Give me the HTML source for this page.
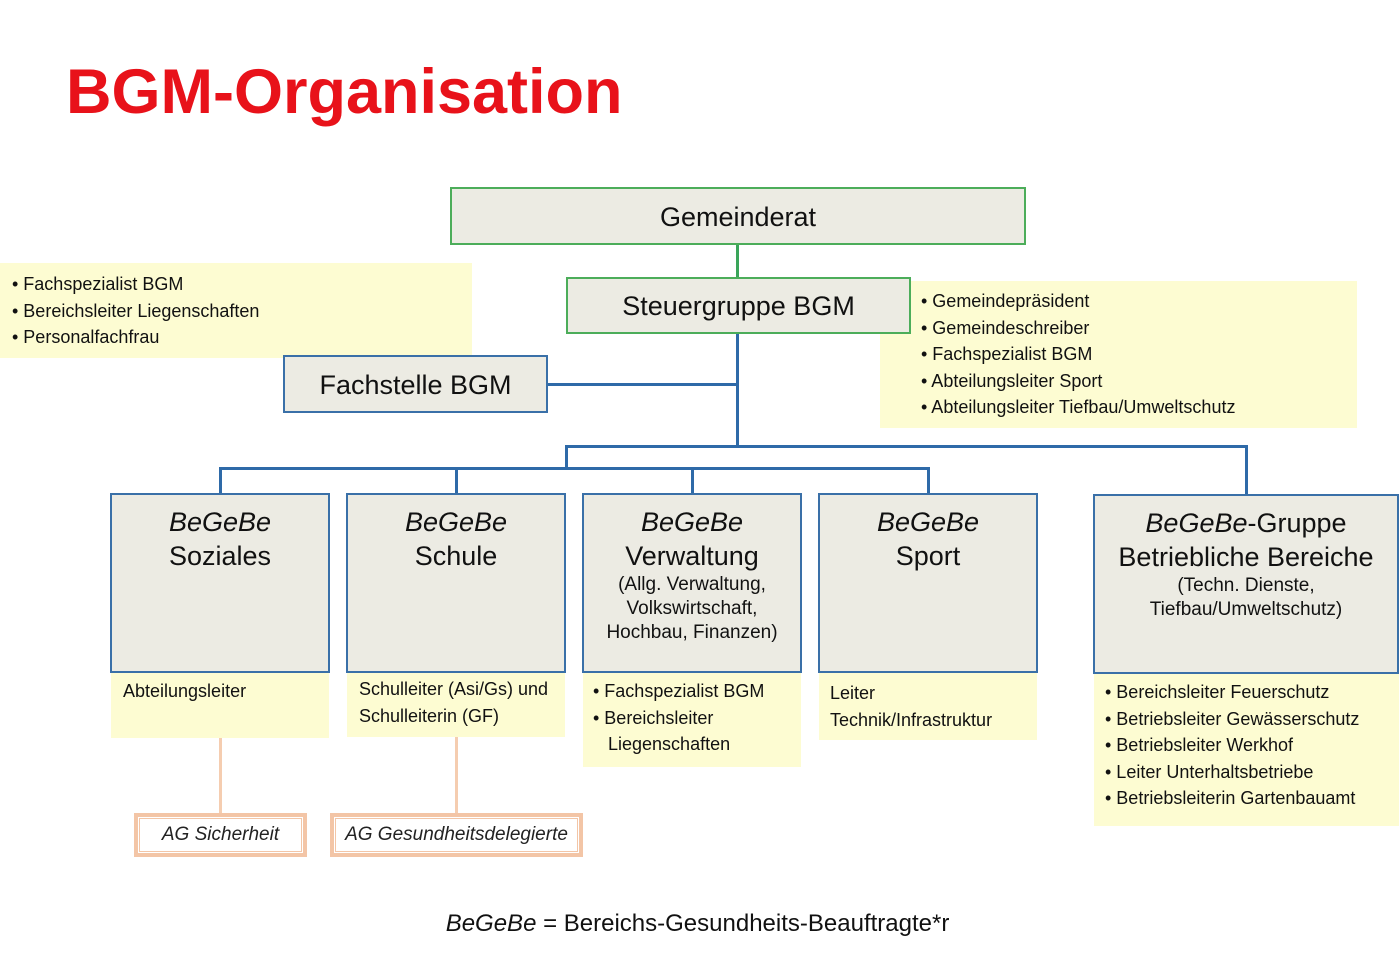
<!DOCTYPE html>
<html><head><meta charset="utf-8"><style>
body{margin:0;width:1400px;height:953px;background:#fff;position:relative;overflow:hidden;font-family:"Liberation Sans",sans-serif;}
.a{position:absolute;box-sizing:border-box;}
.box{background:#ecebe3;text-align:center;color:#111;}
.g{border:2px solid #4cad5a;}
.b{border:2px solid #3a70a8;}
.note{background:#fdfcd2;color:#111;font-size:18px;line-height:26.5px;}
.l{position:absolute;background:#2e6aa8;}
.o{position:absolute;background:#f5cdb0;}
.h{font-size:27px;line-height:34px;}
.s{font-size:19px;line-height:24px;}
i{font-style:italic;}
.ag{border:4px solid #f3c5a6;background:#fff;font-style:italic;font-size:19px;text-align:center;line-height:32px;color:#222;}
.ag span{display:block;margin:1px;border:1px solid #f3c5a6;height:32px;}
</style></head><body>
<div class="a" style="left:66px;top:56px;font-size:63px;font-weight:bold;color:#e8121a;">BGM-Organisation</div>

<div class="a note" style="left:0;top:263px;width:472px;height:95px;padding:8px 0 0 12px">• Fachspezialist BGM<br>• Bereichsleiter Liegenschaften<br>• Personalfachfrau</div>
<div class="a note" style="left:880px;top:281px;width:477px;height:147px;padding:7px 0 0 41px">• Gemeindepräsident<br>• Gemeindeschreiber<br>• Fachspezialist BGM<br>• Abteilungsleiter Sport<br>• Abteilungsleiter Tiefbau/Umweltschutz</div>

<div class="o" style="left:736px;top:244px;width:3px;height:33px;background:#3aa55a"></div>
<div class="l" style="left:736px;top:333px;width:3px;height:114px"></div>
<div class="l" style="left:547px;top:383px;width:191px;height:3px"></div>
<div class="l" style="left:565px;top:445px;width:683px;height:3px"></div>
<div class="l" style="left:565px;top:445px;width:3px;height:24px"></div>
<div class="l" style="left:219px;top:467px;width:711px;height:3px"></div>
<div class="l" style="left:219px;top:467px;width:3px;height:28px"></div>
<div class="l" style="left:455px;top:467px;width:3px;height:28px"></div>
<div class="l" style="left:691px;top:467px;width:3px;height:28px"></div>
<div class="l" style="left:927px;top:467px;width:3px;height:28px"></div>
<div class="l" style="left:1245px;top:445px;width:3px;height:50px"></div>

<div class="a box g h" style="left:450px;top:187px;width:576px;height:58px;line-height:56px">Gemeinderat</div>
<div class="a box g h" style="left:566px;top:277px;width:345px;height:57px;line-height:55px">Steuergruppe BGM</div>
<div class="a box b h" style="left:283px;top:355px;width:265px;height:58px;line-height:56px">Fachstelle BGM</div>

<div class="a box b h" style="left:110px;top:493px;width:220px;height:180px;padding-top:10px"><i>BeGeBe</i><br>Soziales</div>
<div class="a box b h" style="left:346px;top:493px;width:220px;height:180px;padding-top:10px"><i>BeGeBe</i><br>Schule</div>
<div class="a box b" style="left:582px;top:493px;width:220px;height:180px;padding-top:10px"><div class="h"><i>BeGeBe</i><br>Verwaltung</div><div class="s">(Allg. Verwaltung,<br>Volkswirtschaft,<br>Hochbau, Finanzen)</div></div>
<div class="a box b h" style="left:818px;top:493px;width:220px;height:180px;padding-top:10px"><i>BeGeBe</i><br>Sport</div>
<div class="a box b" style="left:1093px;top:494px;width:306px;height:180px;padding-top:10px"><div class="h"><i>BeGeBe</i>-Gruppe<br>Betriebliche Bereiche</div><div class="s">(Techn. Dienste,<br>Tiefbau/Umweltschutz)</div></div>

<div class="a note" style="left:111px;top:673px;width:218px;height:65px;padding:5px 0 0 12px">Abteilungsleiter</div>
<div class="a note" style="left:347px;top:673px;width:218px;height:64px;padding:3px 0 0 12px">Schulleiter (Asi/Gs) und<br>Schulleiterin (GF)</div>
<div class="a note" style="left:583px;top:673px;width:218px;height:94px;padding:5px 0 0 10px">• Fachspezialist BGM<br>• Bereichsleiter<br>&nbsp;&nbsp;&nbsp;Liegenschaften</div>
<div class="a note" style="left:819px;top:673px;width:218px;height:67px;padding:7px 0 0 11px">Leiter<br>Technik/Infrastruktur</div>
<div class="a note" style="left:1094px;top:674px;width:305px;height:152px;padding:5px 0 0 11px">• Bereichsleiter Feuerschutz<br>• Betriebsleiter Gewässerschutz<br>• Betriebsleiter Werkhof<br>• Leiter Unterhaltsbetriebe<br>• Betriebsleiterin Gartenbauamt</div>

<div class="o" style="left:219px;top:738px;width:3px;height:75px"></div>
<div class="o" style="left:455px;top:737px;width:3px;height:76px"></div>
<div class="a ag" style="left:134px;top:813px;width:173px;height:44px"><span>AG Sicherheit</span></div>
<div class="a ag" style="left:330px;top:813px;width:253px;height:44px"><span>AG Gesundheitsdelegierte</span></div>

<div class="a" style="left:0;width:1395px;top:910px;text-align:center;font-size:24px;color:#111"><i>BeGeBe</i> = Bereichs-Gesundheits-Beauftragte*r</div>
</body></html>
